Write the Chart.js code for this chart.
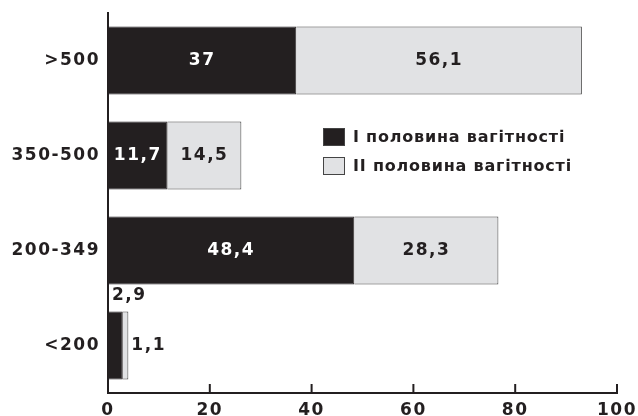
<!DOCTYPE html>
<html>
<head>
<meta charset="utf-8">
<script src="https://cdn.jsdelivr.net/npm/chart.js@4"></script>
<style>
  html, body { margin: 0; padding: 0; background: #fff; }
  #wrap { width: 638px; height: 416px; }
</style>
</head>
<body>
<div id="wrap"><canvas id="chart"></canvas></div>
<script>
const categories = [">500", "350-500", "200-349", "<200"];
const firstHalf = [37, 11.7, 48.4, 2.9];
const secondHalf = [56.1, 14.5, 28.3, 1.1];
const seriesNames = ["І половина вагітності", "ІІ половина вагітності"];
const xTicks = [0, 20, 40, 60, 80, 100];

const FONT = "'DejaVu Sans', 'Liberation Sans', Arial, sans-serif";
const fmt = v => String(v).replace(".", ",");

// wider letter spacing like the printed original
const spacing = {
  id: "spacing",
  beforeDraw(chart) { chart.ctx.letterSpacing = "1.5px"; }
};

// value labels, inner x ticks and in-chart legend
const decor = {
  id: "decor",
  afterDatasetsDraw(chart) {
    const ctx = chart.ctx;
    const x = chart.scales.x;
    const area = chart.chartArea;
    ctx.save();
    ctx.letterSpacing = "1.5px";
    ctx.font = "bold 17px " + FONT;
    ctx.textBaseline = "middle";
    chart.data.datasets.forEach((ds, di) => {
      chart.getDatasetMeta(di).data.forEach((bar, i) => {
        const v = ds.data[i];
        const left = Math.min(bar.x, bar.base), right = Math.max(bar.x, bar.base);
        const w = right - left;
        ctx.fillStyle = di === 0 ? "#ffffff" : "#231f20";
        ctx.textAlign = "center";
        if (w > 45) {
          ctx.fillText(fmt(v), (left + right) / 2, bar.y);
        } else if (di === 0) {
          ctx.fillStyle = "#231f20";
          ctx.textAlign = "left";
          ctx.fillText(fmt(v), left + 4, bar.y - bar.height / 2 - 16);
        } else {
          ctx.textAlign = "left";
          ctx.fillText(fmt(v), right + 3, bar.y);
        }
      });
    });
    // tick marks pointing into the plot
    ctx.strokeStyle = "#231f20";
    ctx.lineWidth = 2;
    xTicks.slice(1).forEach(t => {
      const px = x.getPixelForValue(t);
      ctx.beginPath();
      ctx.moveTo(px, area.bottom);
      ctx.lineTo(px, area.bottom - 9);
      ctx.stroke();
    });
    // legend
    ctx.font = "bold 16px " + FONT;
    ctx.letterSpacing = "0.8px";
    ctx.textAlign = "left";
    chart.data.datasets.forEach((ds, di) => {
      const cy = 137 + di * 29;
      ctx.fillStyle = ds.backgroundColor;
      ctx.fillRect(323, cy - 9, 22, 18);
      ctx.strokeStyle = "#444";
      ctx.lineWidth = 1;
      ctx.strokeRect(323.5, cy - 8.5, 21, 17);
      ctx.fillStyle = "#231f20";
      ctx.fillText(ds.label, 353, cy + 1);
    });
    ctx.restore();
  }
};

new Chart(document.getElementById("chart"), {
  type: "bar",
  data: {
    labels: categories,
    datasets: [
      { label: seriesNames[0], data: firstHalf, backgroundColor: "#231f20", borderColor: "#231f20", borderWidth: 1 },
      { label: seriesNames[1], data: secondHalf, backgroundColor: "#e1e2e4", borderColor: "#444", borderWidth: 1 }
    ]
  },
  options: {
    indexAxis: "y",
    responsive: true,
    maintainAspectRatio: false,
    animation: false,
    layout: { padding: { top: 13, right: 21, left: 0, bottom: 0 } },
    categoryPercentage: 0.716,
    barPercentage: 1,
    plugins: { legend: { display: false }, tooltip: { enabled: false } },
    scales: {
      x: {
        stacked: true,
        min: 0, max: 100,
        afterBuildTicks: s => { s.ticks = xTicks.map(v => ({ value: v })); },
        afterFit: s => { s.height = 23; s.paddingLeft = 0; s.paddingRight = 0; },
        grid: { display: false, drawTicks: false },
        border: { color: "#231f20", width: 2 },
        ticks: { color: "#231f20", font: { family: FONT, size: 17, weight: "bold" }, padding: 7, maxRotation: 0 }
      },
      y: {
        stacked: true,
        afterFit: s => { s.width = 108; s.paddingTop = 0; s.paddingBottom = 0; },
        grid: { display: false, drawTicks: false },
        border: { color: "#231f20", width: 2 },
        ticks: { color: "#231f20", font: { family: FONT, size: 17, weight: "bold" }, padding: 8 }
      }
    }
  },
  plugins: [spacing, decor]
});
</script>
</body>
</html>
